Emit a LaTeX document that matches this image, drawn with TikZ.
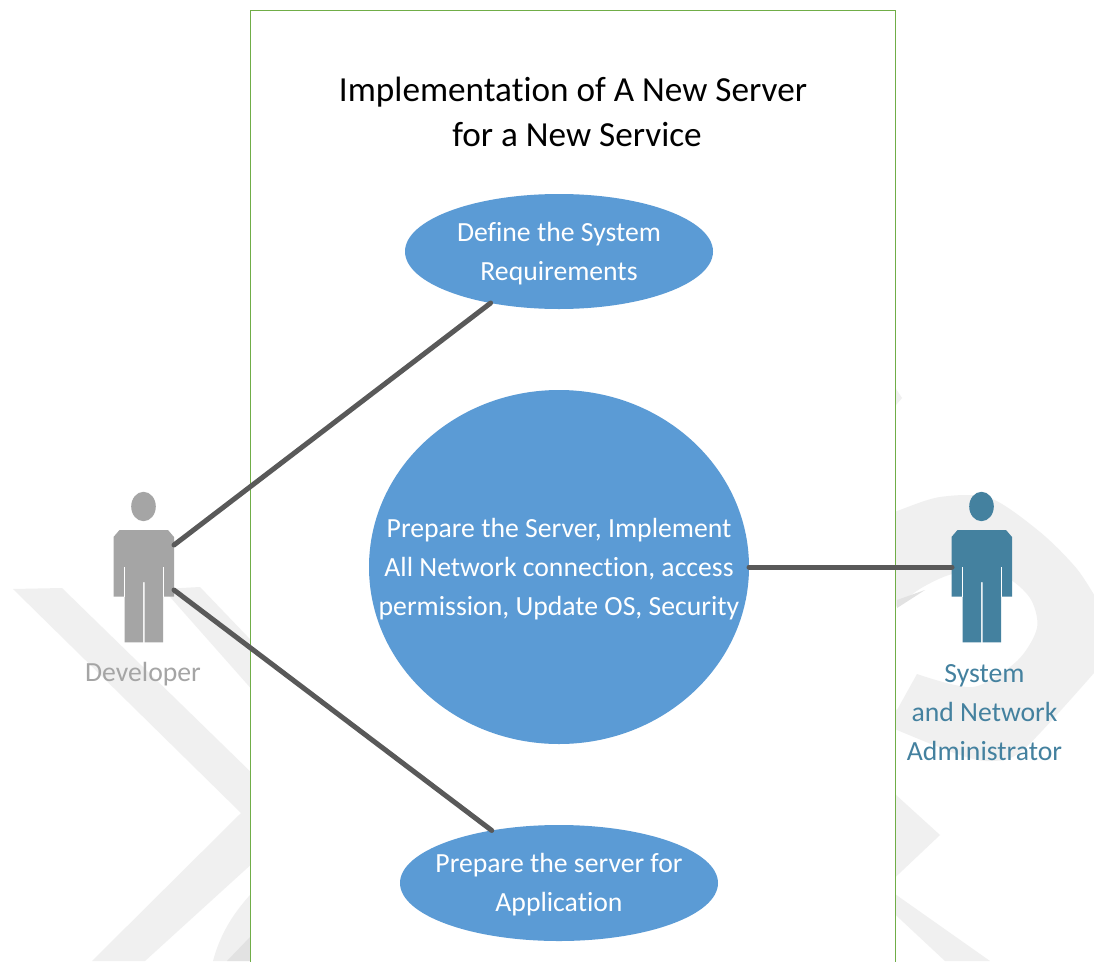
\documentclass[tikz,border=0pt]{standalone}
\usepackage{fontspec}
\setmainfont[Ligatures=NoCommon]{Carlito}
\usetikzlibrary{shapes.geometric}
\definecolor{wm}{HTML}{F0F0F0}
\definecolor{wmdark}{HTML}{E2E2E2}
\definecolor{boxgreen}{HTML}{70AD47}
\definecolor{casefill}{HTML}{5B9BD5}
\definecolor{linkgray}{HTML}{595959}
\definecolor{devgray}{HTML}{A5A5A5}
\definecolor{admteal}{HTML}{44819F}
\tikzset{
  usecase/.style={ellipse,fill=casefill,draw=none,inner sep=0pt,outer sep=0pt},
  casetext/.style={text=white,align=center,inner sep=0pt,yshift=-2pt,font=\fontsize{27.7}{39}\selectfont},
  titletext/.style={text=black,align=center,inner sep=0pt,font=\fontsize{35.2}{45}\selectfont},
  actortext/.style={align=center,inner sep=0pt,font=\fontsize{27.7}{39}\selectfont},
  link/.style={draw=linkgray,line width=5pt,line cap=round},
  actorbody/.pic={
    \fill[pic actions] (0,-23.5) ellipse [x radius=12.3pt,y radius=14.7pt];
    \fill[pic actions] (-24,0) -- (24.5,0) -- (30.5,7) -- (30.5,66.7) -- (19.5,66.7) -- (19.5,37)
      -- (19.5,112.3) -- (1,112.3) -- (1,52) -- (-0.5,52) -- (-0.5,112.3) -- (-19,112.3)
      -- (-19,37) -- (-19,66.7) -- (-30,66.7) -- (-30,7) -- cycle;
    \draw[white,line width=.6pt] (-19,37) -- (-19,66.7) (19.5,37) -- (19.5,66.7);
  }
}
\begin{document}
\begin{tikzpicture}[x=1pt,y=-1pt]
\useasboundingbox (0,0) rectangle (1094,961);
\begin{scope}
\clip (0,0) rectangle (1094,961);
\fill[white] (0,0) rectangle (1094,961);
% watermark
\fill[wm] (13,589) -- (62,588) -- (300,820) -- (145,961) -- (92,961) -- (241,813) -- cycle;
\fill[wm] (163,589) -- (200,587) -- (270,660) -- (270,710) -- cycle;
\fill[wm] (250,895) .. controls (232,915) and (220,935) .. (213,961) -- (300,961) -- (300,880) -- cycle;
\fill[wmdark] (250,937) -- (227,961) -- (250,961) -- cycle;
\fill[wm] plot[smooth] coordinates {(880,517) (897,511) (940,497) (990,498) (1040,532) (1077,569) (1100,605)}
  -- (1100,665) -- plot[smooth] coordinates {(1094,673) (1023,750) (990,761) (957,754) (897,730) (880,722)}
  -- (880,700) -- (897,710) -- plot[smooth] coordinates {(917,674) (973,687) (1017,661) (1037,628) (1030,598) (1003,576) (957,573) (923,587) (897,606) (880,620)} -- cycle;
\fill[wmdark] (897,608) -- (925,590) -- (897,600) -- cycle;
\fill[wm] (885,785) -- (940,835) -- (885,887) -- (990,961) -- (945,961) -- (885,905) -- cycle;
\fill[wm] (890,380) -- (902,398) -- (890,412) -- cycle;
\end{scope}
% system boundary
\fill[white,draw=boxgreen,line width=1pt] (250.5,10) -- (895.5,10) -- (895.5,970) -- (250.5,970) -- cycle;
\node[titletext] (title) at (573,112) {Implementation of A New Server\\\hspace*{8pt}for a New Service};
% use cases
\node[usecase,minimum width=308pt,minimum height=115pt,label={[casetext]center:{Define the System\\Requirements}}] (e1) at (559,251.5) {};
\node[usecase,minimum width=380pt,minimum height=354pt,label={[casetext]center:{Prepare the Server, Implement\\All Network connection, access\\permission, Update OS, Security}}] (e2) at (559,567) {};
\node[usecase,minimum width=318pt,minimum height=116pt,label={[casetext]center:{Prepare the server for\\Application}}] (e3) at (559,883) {};
% actors
\pic[fill=devgray] at (143.5,530) {actorbody};
\pic[fill=admteal] at (981.5,530) {actorbody};
\coordinate (devtop) at (174,545);
\coordinate (devlow) at (174,590);
\coordinate (admhand) at (952,567);
\node[actortext,text=devgray] (devlabel) at (143,674.5) {Developer};
\node[actortext,text=admteal] (admlabel) at (984.5,713) {System\\and Network\\Administrator};
% links
\draw[link] (devtop) -- (e1.217.6);
\draw[link] (devlow) -- (e3.142.1);
\draw[link] (e2.0) -- (admhand);
\end{tikzpicture}
\end{document}
